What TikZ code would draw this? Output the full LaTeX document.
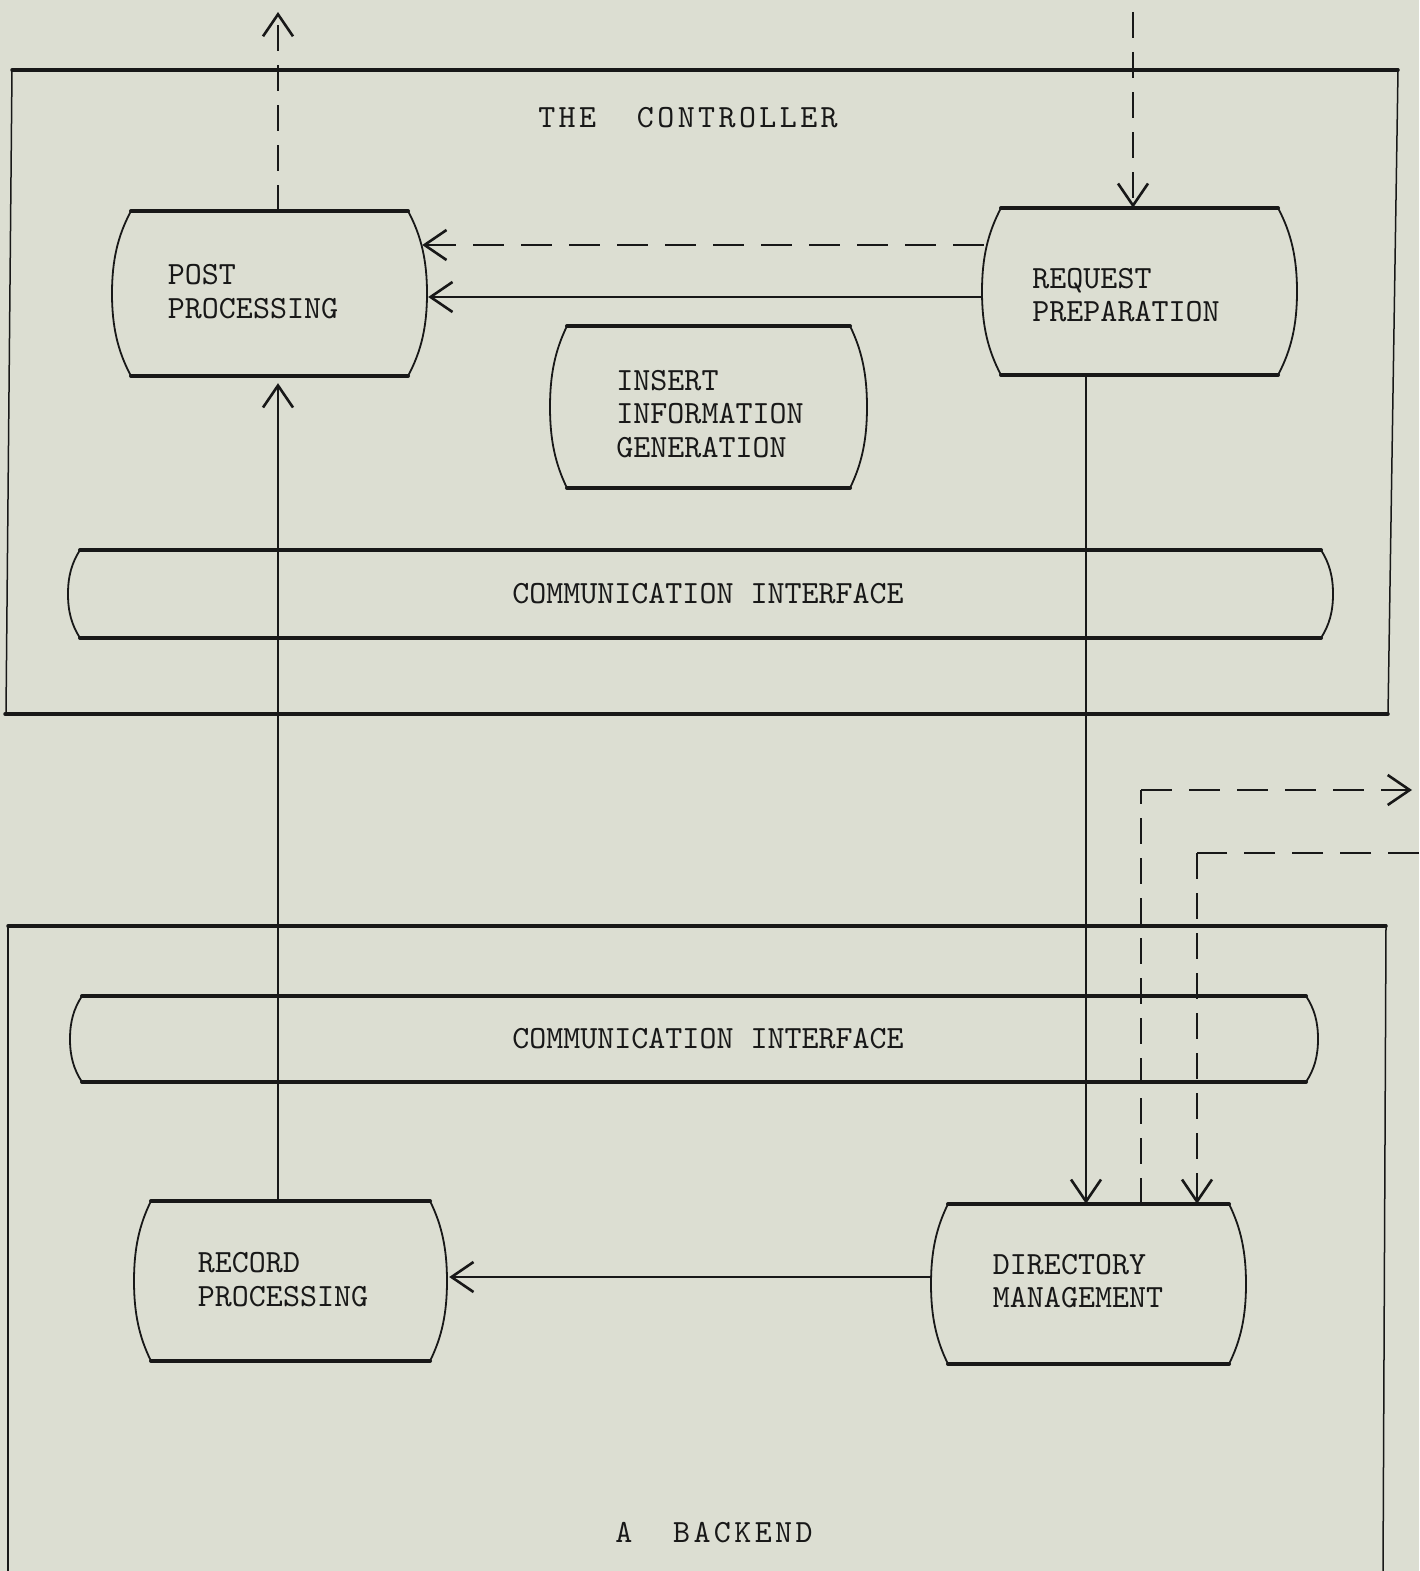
\documentclass[tikz,border=0pt]{standalone}
\usepackage{fontspec}
\setmonofont{lmmono10-regular}[Extension=.otf]
\newfontfamily\titlefont{lmmono10-regular}[Extension=.otf,LetterSpace=10.5]
\usetikzlibrary{arrows.meta,calc}
\definecolor{paper}{RGB}{220,222,210}
\definecolor{ink}{RGB}{24,24,24}

% A process box: thick top and bottom rules, thin bulging sides.
% #1 name, #2 left bulge x, #3 right bulge x, #4 top y, #5 bottom y, #6 corner inset
\newcommand\procbox[6]{%
  \node[boxarea, minimum width={(#3-#2)*1pt}, minimum height={(#5-#4)*1pt}]
    (#1) at ({(#2+#3)/2},{(#4+#5)/2}) {};
  \draw[rule] ({#2+#6},#4) -- ({#3-#6},#4);
  \draw[rule] ({#2+#6},#5) -- ({#3-#6},#5);
  \draw[bulge] ({#2+#6},#4)
      .. controls ({#2+0.3*#6},{#4+0.15*(#5-#4)}) and (#2,{#4+0.3*(#5-#4)}) .. (#2,{(#4+#5)/2})
      .. controls (#2,{#5-0.3*(#5-#4)}) and ({#2+0.3*#6},{#5-0.15*(#5-#4)}) .. ({#2+#6},#5);
  \draw[bulge] ({#3-#6},#4)
      .. controls ({#3-0.3*#6},{#4+0.15*(#5-#4)}) and (#3,{#4+0.3*(#5-#4)}) .. (#3,{(#4+#5)/2})
      .. controls (#3,{#5-0.3*(#5-#4)}) and ({#3-0.3*#6},{#5-0.15*(#5-#4)}) .. ({#3-#6},#5);
}

\begin{document}
\begin{tikzpicture}[x=1pt,y=-1pt,
  boxarea/.style={rectangle,draw=none,inner sep=0pt},
  rule/.style={draw=ink,line width=4pt,line cap=round},
  bulge/.style={draw=ink,line width=1.8pt},
  frametop/.style={draw=ink,line width=3.5pt,line cap=round},
  frameside/.style={draw=ink,line width=1.5pt},
  wire/.style={draw=ink,line width=1.4pt},
  dwire/.style={wire,dash pattern=on 26pt off 14pt},
  bus/.style={draw=ink,line width=2.8pt},
  dbus/.style={bus,dash pattern=on 31pt off 17pt},
  >={Straight Barb[length=22pt,width=30pt,line width=2.6pt]},
  txt/.style={inner sep=0pt,align=left,text=ink,
    font=\ttfamily\fontsize{32.4}{33.5}\selectfont},
  ttl/.style={inner sep=0pt,text=ink,
    font=\titlefont\fontsize{32.4}{33.5}\selectfont}]

\fill[paper] (0,0) rectangle (1419,1571);
\useasboundingbox (0,0) rectangle (1419,1571);

% ---- the controller frame
\draw[frametop] (12,70) -- (1398,70);
\draw[frametop] (5,714) -- (1388,714);
\draw[frameside] (12,70) -- (6,714);
\draw[frameside] (1398,70) -- (1388,714);
\node[ttl] (ctrl) at (688,118) {THE~~CONTROLLER};

% ---- the backend frame
\draw[frametop] (8,926) -- (1386,926);
\draw[frameside] (8,926) -- (8,1571);
\draw[frameside] (1386,926) -- (1383,1571);
\node[ttl] (back) at (714,1533) {A~~BACKEND};

% ---- process boxes
\procbox{pp}{112}{427}{211}{376}{19}
\procbox{rq}{982}{1297}{208}{375}{19}
\procbox{ig}{550}{867}{326}{488}{17}
\procbox{ci1}{68}{1333}{550}{638}{12}
\procbox{ci2}{70}{1318}{996}{1082}{12}
\procbox{rc}{134}{447}{1201}{1361}{17}
\procbox{dm}{931}{1246}{1204}{1364}{17}

\node[txt] (pp-t)  at (253,291.5) {POST\\PROCESSING};
\node[txt] (rq-t)  at (1126,295) {REQUEST\\PREPARATION};
\node[txt] (ig-t)  at (710,414) {INSERT\\INFORMATION\\GENERATION};
\node[txt] (ci1-t) at (708,594) {COMMUNICATION INTERFACE};
\node[txt] (ci2-t) at (708,1039) {COMMUNICATION INTERFACE};
\node[txt] (rc-t)  at (283,1279.5) {RECORD\\PROCESSING};
\node[txt] (dm-t)  at (1078,1281) {DIRECTORY\\MANAGEMENT};

% ---- reference columns and rows for the connectors
\coordinate (xa) at (278,0);
\coordinate (xd) at (1086,0);
\coordinate (xe) at (1141,0);
\coordinate (xf) at (1197,0);
\coordinate (ya) at (0,245);
\coordinate (yb) at (0,297);
\coordinate (yc) at (0,1277);
\coordinate (outA) at (278,12);
\coordinate (inB) at (1133,12);
\coordinate (cE) at (1141,790);
\coordinate (outC) at (1412,790);
\coordinate (inD) at (1419,853);
\coordinate (cF) at (1197,853);

% ---- connectors
\draw[dbus,->] ($(rq.west |- ya)+(2,0)$) -- ($(pp.east |- ya)+(-5,0)$);
\draw[bus,->] (rq.west |- yb) -- ($(pp.east |- yb)+(1,0)$);
\draw[dwire,->] (xa |- pp.north) -- (outA);
\draw[wire,->] (xa |- rc.north) -- ($(xa |- pp.south)+(0,7)$);
\draw[dwire,->] (inB) -- (inB |- rq.north);
\draw[wire,->] (xd |- rq.south) -- (xd |- dm.north);
\draw[dwire] (xe |- dm.north) -- (cE);
\draw[dbus,->] (cE) -- (outC);
\draw[dbus] (inD) -- (cF);
\draw[dwire,->] (cF) -- (xf |- dm.north);
\draw[bus,->] (dm.west |- yc) -- ($(rc.east |- yc)+(2,0)$);

\end{tikzpicture}
\end{document}
